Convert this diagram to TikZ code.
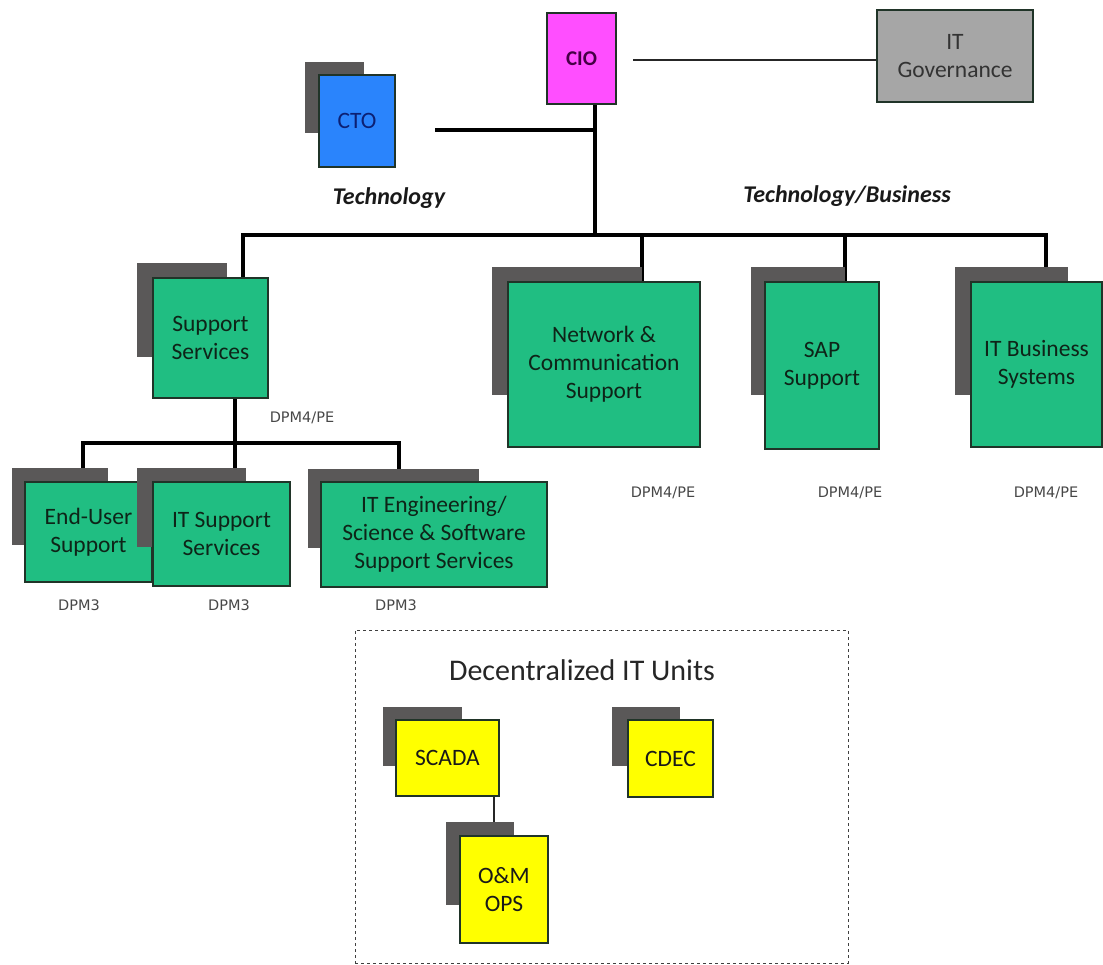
\documentclass[tikz,border=0pt]{standalone}
\usepackage{fontspec}
\setmainfont{Carlito}
\newfontfamily\gradefont{DejaVu Sans}
\pgfdeclarelayer{wires}
\pgfsetlayers{wires,main}

\definecolor{unitgreen}{RGB}{32,190,130}
\definecolor{unittext}{RGB}{14,36,24}
\definecolor{shadegray}{RGB}{90,88,88}
\definecolor{ctoblue}{RGB}{42,132,252}
\definecolor{ctotext}{RGB}{12,32,115}
\definecolor{ciopink}{RGB}{255,78,255}
\definecolor{ciotext}{RGB}{70,0,70}
\definecolor{govgray}{RGB}{166,166,166}
\definecolor{unityellow}{RGB}{255,255,0}
\definecolor{edgedark}{RGB}{32,52,40}

\tikzset{
  unit/.style={draw=edgedark, line width=1.3pt, inner sep=0pt, align=center,
    font=\fontsize{23.5}{28}\selectfont, text=unittext},
  greenunit/.style={unit, fill=unitgreen},
  yellowunit/.style={unit, fill=unityellow, text=black!90},
  shade/.style={fill=shadegray},
  trunk/.style={line width=3.4pt, black},
  thinwire/.style={line width=1.4pt, black!85},
  grade/.style={font=\gradefont\fontsize{14.5}{17}\selectfont, text=black!72},
  area/.style={font=\bfseries\itshape\fontsize{24}{28}\selectfont, text=black!90},
}

\begin{document}
\begin{tikzpicture}[x=1pt, y=-1pt]
\useasboundingbox (0,0) rectangle (1103,965);

% top level
\node[unit, fill=ciopink, minimum width=69, minimum height=91,
      font=\bfseries\fontsize{21}{25}\selectfont, text=ciotext]
      (cio) at (581.5,58.5) {CIO};
\node[unit, fill=govgray, minimum width=156, minimum height=92,
      text=black!80] (gov) at (955,56) {IT\\Governance};
\fill[shade] (305,62) rectangle (364,133);
\node[unit, fill=ctoblue, minimum width=76, minimum height=92,
      text=ctotext] (cto) at (357,121) {CTO};

\node[area] (techlbl) at (389,198) {Technology};
\node[area] (bizlbl) at (847,196) {Technology/Business};

% second level
\fill[shade] (137,263) rectangle (227,357);
\node[greenunit, minimum width=115, minimum height=120] (ss) at (210.5,338) {Support\\Services};
\fill[shade] (492,267) rectangle (642,395);
\node[greenunit, minimum width=192, minimum height=165] (net) at (604,364.5) {Network \&\\Communication\\Support};
\fill[shade] (751,267) rectangle (845,395);
\node[greenunit, minimum width=114, minimum height=167] (sap) at (822,365.5) {SAP\\Support};
\fill[shade] (955,267) rectangle (1068,395);
\node[greenunit, minimum width=131, minimum height=165] (itbs) at (1036.5,364.5) {IT Business\\Systems};

\node[grade] (g1) at (302,418) {DPM4/PE};
\node[grade] (g2) at (663,493) {DPM4/PE};
\node[grade] (g3) at (850,493) {DPM4/PE};
\node[grade] (g4) at (1046,493) {DPM4/PE};

% third level
\fill[shade] (12,468) rectangle (108,545);
\node[greenunit, minimum width=127, minimum height=100] (eu) at (88.5,532) {End-User\\Support};
\fill[shade] (137,468) rectangle (246,547);
\node[greenunit, minimum width=137, minimum height=104] (its) at (221.5,534) {IT Support\\Services};
\fill[shade] (308,469) rectangle (479,548);
\node[greenunit, minimum width=226, minimum height=105] (iteng) at (434,534.5) {IT Engineering/\\Science \& Software\\Support Services};

\node[grade] (g5) at (79,605) {DPM3};
\node[grade] (g6) at (229,605) {DPM3};
\node[grade] (g7) at (396,605) {DPM3};

% decentralized units
\node[draw=black!75, dashed, line width=1pt, minimum width=493, minimum height=333,
      inner sep=0pt] (dec) at (601.5,796.5) {};
\node[font=\fontsize{30}{35}\selectfont, text=black!85] (dectitle) at (582,670) {Decentralized IT Units};
\fill[shade] (383,707) rectangle (462,766);
\node[yellowunit, minimum width=103, minimum height=76] (scada) at (447.5,758) {SCADA};
\fill[shade] (612,707) rectangle (680,766);
\node[yellowunit, minimum width=85, minimum height=77] (cdec) at (670.5,758.5) {CDEC};
\fill[shade] (446,822) rectangle (514,905);
\node[yellowunit, minimum width=88, minimum height=107] (om) at (504,889.5) {O\&M\\OPS};

% connectors
\coordinate (govfeed) at (633,60);
\coordinate (ctofeed) at (435,130);
\coordinate (spine) at (595,235);
\coordinate (barL) at (243,235);
\coordinate (barR) at (1046,235);
\coordinate (subspine) at (235,443);
\coordinate (subL) at (83,443);
\coordinate (subR) at (399,443);
\coordinate (netdrop) at (642,235);
\coordinate (sapdrop) at (845,235);
\coordinate (omdrop) at (494,796);

\begin{pgfonlayer}{wires}
  \draw[thinwire] (govfeed) -- (govfeed -| gov.west);
  \draw[trunk] (spine |- cio.south) -- (spine);
  \draw[trunk] (ctofeed) -- (ctofeed -| spine);
  \draw[trunk, line cap=rect] (barL) -- (barR);
  \draw[trunk] (barL) -- (barL |- ss.north);
  \draw[trunk] (netdrop) -- (netdrop |- net.north);
  \draw[trunk] (sapdrop) -- (sapdrop |- sap.north);
  \draw[trunk] (barR) -- (barR |- itbs.north);
  \draw[trunk] (subspine |- ss.south) -- (subspine |- its.north);
  \draw[trunk, line cap=rect] (subL) -- (subR);
  \draw[trunk] (subL) -- (subL |- eu.north);
  \draw[trunk] (subR) -- (subR |- iteng.north);
  \draw[thinwire] (omdrop |- scada.south) -- (omdrop |- om.north);
\end{pgfonlayer}
\end{tikzpicture}
\end{document}
